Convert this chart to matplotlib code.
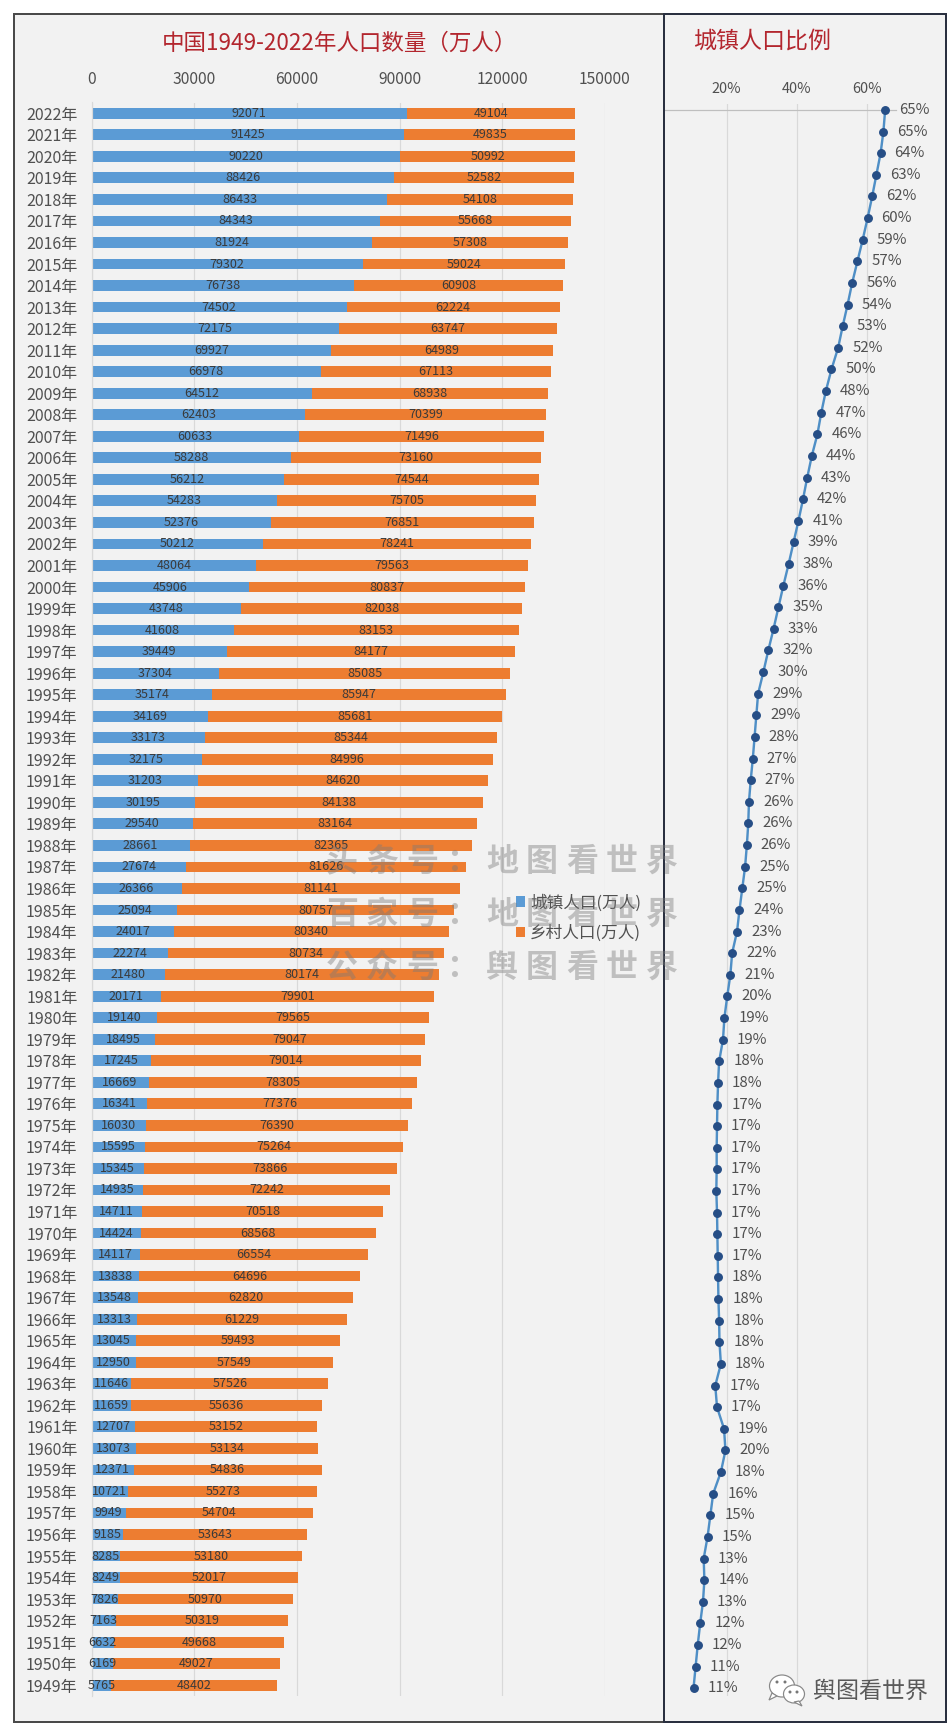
import numpy as np
import matplotlib
matplotlib.use('Agg')
import matplotlib.pyplot as plt
from matplotlib.patches import Rectangle, Ellipse, Polygon

plt.rcParams['font.family'] = ['Noto Sans CJK SC', 'DejaVu Sans']

W, H = 952, 1732

years = [f'{y}年' for y in range(2022, 1948, -1)]
urban = [92071, 91425, 90220, 88426, 86433, 84343, 81924, 79302, 76738, 74502,
         72175, 69927, 66978, 64512, 62403, 60633, 58288, 56212, 54283, 52376,
         50212, 48064, 45906, 43748, 41608, 39449, 37304, 35174, 34169, 33173,
         32175, 31203, 30195, 29540, 28661, 27674, 26366, 25094, 24017, 22274,
         21480, 20171, 19140, 18495, 17245, 16669, 16341, 16030, 15595, 15345,
         14935, 14711, 14424, 14117, 13838, 13548, 13313, 13045, 12950, 11646,
         11659, 12707, 13073, 12371, 10721, 9949, 9185, 8285, 8249, 7826,
         7163, 6632, 6169, 5765]
rural = [49104, 49835, 50992, 52582, 54108, 55668, 57308, 59024, 60908, 62224,
         63747, 64989, 67113, 68938, 70399, 71496, 73160, 74544, 75705, 76851,
         78241, 79563, 80837, 82038, 83153, 84177, 85085, 85947, 85681, 85344,
         84996, 84620, 84138, 83164, 82365, 81626, 81141, 80757, 80340, 80734,
         80174, 79901, 79565, 79047, 79014, 78305, 77376, 76390, 75264, 73866,
         72242, 70518, 68568, 66554, 64696, 62820, 61229, 59493, 57549, 57526,
         55636, 53152, 53134, 54836, 55273, 54704, 53643, 53180, 52017, 50970,
         50319, 49668, 49027, 48402]
rate = [65.2, 64.7, 63.9, 62.7, 61.5, 60.2, 58.8, 57.3, 55.8, 54.5,
        53.1, 51.8, 49.9, 48.3, 47.0, 45.9, 44.3, 43.0, 41.8, 40.5,
        39.1, 37.7, 36.2, 34.8, 33.4, 31.9, 30.5, 29.0, 28.5, 28.0,
        27.5, 26.9, 26.4, 26.2, 25.8, 25.3, 24.5, 23.7, 23.0, 21.6,
        21.1, 20.2, 19.4, 19.0, 17.9, 17.6, 17.4, 17.3, 17.2, 17.2,
        17.1, 17.3, 17.4, 17.5, 17.6, 17.7, 17.9, 18.0, 18.4, 16.8,
        17.3, 19.3, 19.7, 18.4, 16.2, 15.4, 14.6, 13.5, 13.7, 13.3,
        12.5, 11.8, 11.2, 10.6]
rate_labels = [65, 65, 64, 63, 62, 60, 59, 57, 56, 54,
               53, 52, 50, 48, 47, 46, 44, 43, 42, 41,
               39, 38, 36, 35, 33, 32, 30, 29, 29, 28,
               27, 27, 26, 26, 26, 25, 25, 24, 23, 22,
               21, 20, 19, 19, 18, 18, 17, 17, 17, 17,
               17, 17, 17, 17, 18, 18, 18, 18, 18, 17,
               17, 19, 20, 18, 16, 15, 15, 13, 14, 13,
               12, 12, 11, 11]
pop_ticks = [0, 30000, 60000, 90000, 120000, 150000]
rate_ticks = [20, 40, 60]

BLUE = '#5B9BD5'
ORANGE = '#ED7D31'
TITLE = '#B3262E'
GRID = '#D9D9D9'
TEXT = '#505050'


def pt(px):
    return px * 0.72


def rect(left, top, right, bottom):
    return [left / W, 1 - bottom / H, (right - left) / W, (bottom - top) / H]


fig = plt.figure(figsize=(W / 100, H / 100), dpi=100, facecolor='white')

# background in pixel coords
bg = fig.add_axes([0, 0, 1, 1], zorder=0)
bg.set_xlim(0, W)
bg.set_ylim(H, 0)
bg.axis('off')
bg.add_patch(Rectangle((13.5, 14), 932.5, 1708, fc='#F2F2F2', ec='none'))
bg.text(339, 43, '中国1949-2022年人口数量（万人）', color=TITLE, fontsize=pt(22.5),
        ha='center', va='center')
bg.text(762, 41, '城镇人口比例', color=TITLE, fontsize=pt(23), ha='center', va='center')

# left panel: stacked bars
y = np.arange(len(years))
ax = fig.add_axes(rect(91.5, 102.5, 605, 1696), zorder=1)
ax.patch.set_alpha(0)
b1 = ax.barh(y, urban, height=0.5, color=BLUE, label='城镇人口(万人)', zorder=2)
b2 = ax.barh(y, rural, left=urban, height=0.5, color=ORANGE, label='乡村人口(万人)', zorder=2)
ax.bar_label(b1, labels=[str(v) for v in urban], label_type='center',
             fontsize=pt(12.6), color='#3A3A3A', zorder=3)
ax.bar_label(b2, labels=[str(v) for v in rural], label_type='center',
             fontsize=pt(12.6), color='#3A3A3A', zorder=3)
ax.set_xlim(0, 150000)
ax.set_ylim(len(years) - 0.5, -0.5)
ax.set_yticks(y, years)
ax.set_xticks(pop_ticks, [str(v) for v in pop_ticks])
ax.xaxis.tick_top()
ax.tick_params(axis='x', length=0, pad=pt(15), labelsize=pt(15.6), labelcolor=TEXT)
ax.tick_params(axis='y', length=0, pad=pt(14), labelsize=pt(16), labelcolor=TEXT)
ax.grid(axis='x', color=GRID, lw=pt(1.2), zorder=0)
ax.set_axisbelow(True)
for side in ['top', 'right', 'bottom']:
    ax.spines[side].set_visible(False)
ax.spines['left'].set_color(GRID)
ax.spines['left'].set_linewidth(pt(1.2))
ax.legend(loc='upper left', bbox_to_anchor=(516 / W, 1 - 894 / H), bbox_transform=fig.transFigure,
          frameon=False, prop={'size': pt(16.6)}, labelcolor=TEXT, borderpad=0, borderaxespad=0,
          handlelength=0.56, handleheight=0.56, handletextpad=0.3, labelspacing=0.8)

# right panel: urban share line
row = 21.62
ax2 = fig.add_axes(rect(664, 104, 946, 1696), zorder=1)
ax2.patch.set_alpha(0)
ax2.plot(rate, y, color='#4F8FC6', lw=pt(2.4), marker='o', ms=pt(7.5), mfc='#264E86', mec='#264E86',
         clip_on=False, zorder=3)
for i, (r, lab) in enumerate(zip(rate, rate_labels)):
    ax2.annotate(f'{lab}%', (r, i), xytext=(pt(14), 0), textcoords='offset points',
                 fontsize=pt(15), color=TEXT, va='center', ha='left', annotation_clip=False)
ax2.set_xlim((664 - 656.3) / 3.51, (946 - 656.3) / 3.51)
ax2.set_ylim((1696 - 110) / row, (104 - 110) / row)
ax2.xaxis.tick_top()
ax2.set_xticks(rate_ticks, [f'{v}%' for v in rate_ticks])
ax2.set_yticks([])
ax2.tick_params(axis='x', length=0, pad=pt(8), labelsize=pt(14.5), labelcolor=TEXT)
ax2.grid(axis='x', color=GRID, lw=pt(1.2), zorder=0)
ax2.set_axisbelow(True)
ax2.axhline(0, color='#BFBFBF', lw=pt(1.2), xmax=(896 - 664) / (946 - 664), zorder=1)
for spine in ax2.spines.values():
    spine.set_visible(False)

# overlay: frame, watermarks, logo
top = fig.add_axes([0, 0, 1, 1], zorder=5)
top.set_xlim(0, W)
top.set_ylim(H, 0)
top.axis('off')
top.add_patch(Rectangle((13.5, 14), 650.5, 1708, fc='none', ec='#4A4A4A', lw=pt(2)))
top.add_patch(Rectangle((664, 14), 282, 1708, fc='none', ec='#2A3040', lw=pt(2)))

watermarks = [('头条号：地图看世界', 862), ('百家号：地图看世界', 915), ('公众号：舆图看世界', 968)]
for line, wy in watermarks:
    for i, ch in enumerate(line):
        top.text(342 + 40 * i, wy, ch, fontsize=pt(32), color='#7A7A7A', alpha=0.42,
                 ha='center', va='center', fontweight='bold')

top.add_patch(Ellipse((782, 1686), 25, 22, fc='white', ec='#888888', lw=pt(1.2)))
top.add_patch(Polygon([(772, 1693), (769, 1700), (777, 1696)], fc='white', ec='#888888', lw=pt(1.2)))
top.add_patch(Ellipse((794, 1694), 21, 18, fc='white', ec='#888888', lw=pt(1.2)))
top.add_patch(Polygon([(799, 1701), (802, 1706), (794, 1702)], fc='white', ec='#888888', lw=pt(1.2)))
for ex, ey in [(777, 1682), (785, 1682), (790, 1692), (797, 1692)]:
    top.add_patch(Ellipse((ex, ey), 3, 3, fc='#777777', ec='none'))
top.text(870, 1691, '舆图看世界', fontsize=pt(23), color='#5A5A5A', ha='center', va='center')

fig.savefig('out.png', dpi=100, facecolor='white')
